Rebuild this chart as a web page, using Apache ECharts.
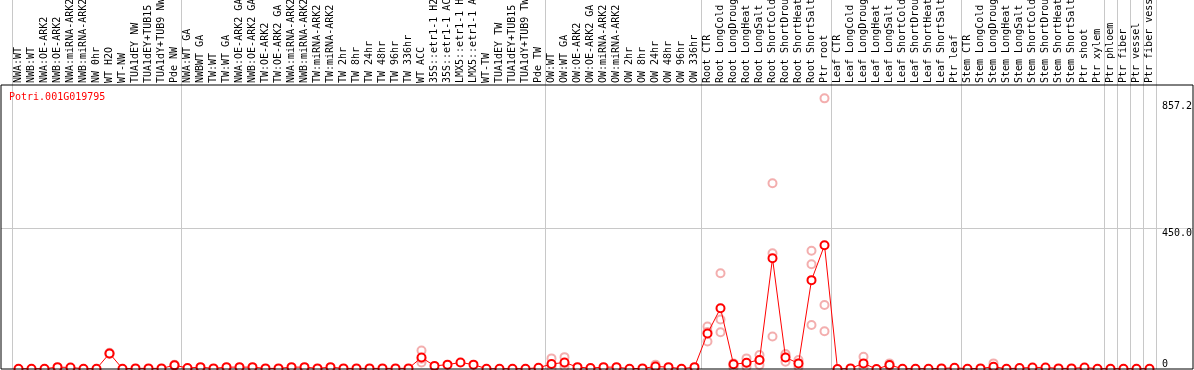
<!DOCTYPE html>
<html>
<head>
<meta charset="utf-8">
<script src="https://cdn.jsdelivr.net/npm/echarts@6.0.0/dist/echarts.min.js"></script>
<style>
  html, body {margin: 0; padding: 0; background: #fff;}
  #main {width: 1194px; height: 370px;}
</style>
</head>
<body>
<div id="main"></div>
<script>
const geneName = 'Potri.001G019795';

const categories = [
  'NWA:WT', 'NWB:WT', 'NWA:OE-ARK2', 'NWB:OE-ARK2', 'NWA:miRNA-ARK2', 'NWB:miRNA-ARK2',
  'NW 0hr', 'WT H2O', 'WT-NW', 'TUA1dEY NW', 'TUA1dEY+TUB15 NW', 'TUA1dY+TUB9 NW', 'Pde NW',
  'NWA:WT GA', 'NWBWT GA', 'TW:WT', 'TW:WT GA', 'NWA:OE-ARK2 GA', 'NWB:OE-ARK2 GA',
  'TW:OE-ARK2', 'TW:OE-ARK2 GA', 'NWA:miRNA-ARK2', 'NWB:miRNA-ARK2', 'TW:miRNA-ARK2',
  'TW:miRNA-ARK2 GA', 'TW 2hr', 'TW 8hr', 'TW 24hr', 'TW 48hr', 'TW 96hr', 'TW 336hr',
  'WT ACC', '35S::etr1-1 H2O', '35S::etr1-1 ACC', 'LMX5::etr1-1 H2O', 'LMX5::etr1-1 ACC',
  'WT-TW', 'TUA1dEY TW', 'TUA1dEY+TUB15 TW', 'TUA1dY+TUB9 TW', 'Pde TW',
  'OW:WT', 'OW:WT GA', 'OW:OE-ARK2', 'OW:OE-ARK2 GA', 'OW:miRNA-ARK2', 'OW:miRNA-ARK2 GA',
  'OW 2hr', 'OW 8hr', 'OW 24hr', 'OW 48hr', 'OW 96hr', 'OW 336hr',
  'Root CTR', 'Root LongCold', 'Root LongDrought', 'Root LongHeat', 'Root LongSalt',
  'Root ShortCold', 'Root ShortDrought', 'Root ShortHeat', 'Root ShortSalt', 'Ptr root',
  'Leaf CTR', 'Leaf LongCold', 'Leaf LongDrought', 'Leaf LongHeat', 'Leaf LongSalt',
  'Leaf ShortCold', 'Leaf ShortDrought', 'Leaf ShortHeat', 'Leaf ShortSalt', 'Ptr leaf',
  'Stem CTR', 'Stem LongCold', 'Stem LongDrought', 'Stem LongHeat', 'Stem LongSalt',
  'Stem ShortCold', 'Stem ShortDrought', 'Stem ShortHeat', 'Stem ShortSalt', 'Ptr shoot',
  'Ptr xylem', 'Ptr phloem', 'Ptr fiber', 'Ptr vessel', 'Ptr fiber vessel'
];

// mean expression per sample
const meanValues = [
  1, 1, 1, 6, 5, 1, 1, 50, 1, 2, 2, 2, 12,
  3, 6, 2, 6, 6, 6, 2, 2, 6, 6, 2, 6, 2, 2, 2, 2, 2, 2,
  37, 10, 14, 21, 14, 1, 1, 1, 1, 4,
  16, 21, 6, 3, 6, 6, 1, 2, 8, 6, 1, 6,
  114, 195, 15, 20, 29, 355, 37, 18, 285, 397,
  0, 2, 18, 0, 13, 1, 1, 1, 2, 4,
  1, 2, 7, 1, 3, 5, 5, 2, 2, 5,
  1, 1, 1, 1, 1
];

// [sample index, rep1, rep2, rep3]
const replicates = [
  [7, 52, 48, 50],
  [12, 14, 10, 12],
  [31, 59, 21, 33],
  [41, 34, 12, 2],
  [42, 38, 7, 18],
  [49, 14, 5, 5],
  [53, 136, 88, 119],
  [54, 307, 159, 118],
  [55, 18, 12, 6],
  [56, 34, 7, 19],
  [57, 45, 13, 29],
  [58, 371, 104, 596],
  [59, 42, 23, 48],
  [60, 29, 7, 18],
  [61, 379, 336, 141],
  [62, 868, 205, 121],
  [65, 39, 10, 5],
  [67, 18, 12, 9],
  [75, 18, 2, 1]
];

const yTicks = [0, 450, 857.2];
// first sample of each block (grey separators)
const groupStarts = [0, 13, 41, 53, 63, 73, 84, 85, 86, 87];

const font = 'DejaVu Sans Mono';
const myChart = echarts.init(document.getElementById('main'));

let repPoints = [];
replicates.forEach(function (r) {
  for (let k = 1; k < r.length; k++) {
    repPoints.push([categories[r[0]], r[k]]);
  }
});

let option = {
  animation: false,
  backgroundColor: '#fff',
  title: {
    text: geneName,
    left: 9,
    top: 92,
    padding: 0,
    textStyle: {color: '#ff0000', fontFamily: font, fontSize: 10, fontWeight: 'normal'}
  },
  grid: [
    { // outer box
      left: 1, right: 1, top: 85, bottom: 1,
      show: true, borderColor: '#000', borderWidth: 1, z: 10,
      outerBoundsMode: 'none'
    },
    { // data area, tall so the separators run through the label zone
      left: 12, width: 1144, top: 0, bottom: 1,
      outerBoundsMode: 'none'
    }
  ],
  xAxis: [
    {gridIndex: 0, type: 'value', min: 0, max: 1, show: false},
    {
      gridIndex: 1,
      type: 'category',
      position: 'top',
      offset: -85,
      data: categories,
      axisLine: {show: false},
      axisTick: {show: false},
      axisLabel: {
        interval: 0, rotate: 90, margin: 2,
        fontFamily: font, fontSize: 10, color: '#000'
      },
      splitLine: {
        show: true,
        interval: function (index) { return groupStarts.indexOf(index) >= 0; },
        lineStyle: {color: '#c8c8c8', width: 1}
      }
    }
  ],
  yAxis: [
    {
      gridIndex: 0, type: 'value', min: 0, max: 910, interval: 450,
      axisLine: {show: false}, axisTick: {show: false}, axisLabel: {show: false},
      splitLine: {
        show: true, showMinLine: true,
        lineStyle: {color: ['rgba(0,0,0,0)', '#c8c8c8', 'rgba(0,0,0,0)', 'rgba(0,0,0,0)'], width: 1}
      }
    },
    {
      gridIndex: 1, type: 'value', min: 0, max: 1183.5,
      position: 'right', z: 3,
      axisLine: {show: false}, axisTick: {show: false}, splitLine: {show: false},
      axisLabel: {
        customValues: yTicks,
        formatter: function (v) { return v === 0 ? '0' : v.toFixed(1); },
        margin: 6,
        verticalAlign: 'top',
        verticalAlignMinLabel: 'bottom',
        backgroundColor: '#fff',
        fontFamily: font, fontSize: 10, color: '#000'
      }
    }
  ],
  series: [
    {
      name: 'replicates',
      type: 'scatter',
      xAxisIndex: 1, yAxisIndex: 1,
      data: repPoints,
      symbol: 'emptyCircle',
      symbolSize: 8,
      itemStyle: {color: '#f09a9a', borderWidth: 1.1},
      silent: true,
      z: 1
    },
    {
      name: 'mean',
      type: 'line',
      xAxisIndex: 1, yAxisIndex: 1,
      data: meanValues,
      symbol: 'emptyCircle',
      symbolSize: 8,
      lineStyle: {color: '#ff0000', width: 1},
      itemStyle: {color: '#ff0000', borderWidth: 1.2},
      silent: true,
      z: 2
    }
  ]
};

myChart.setOption(option);
</script>
</body>
</html>
